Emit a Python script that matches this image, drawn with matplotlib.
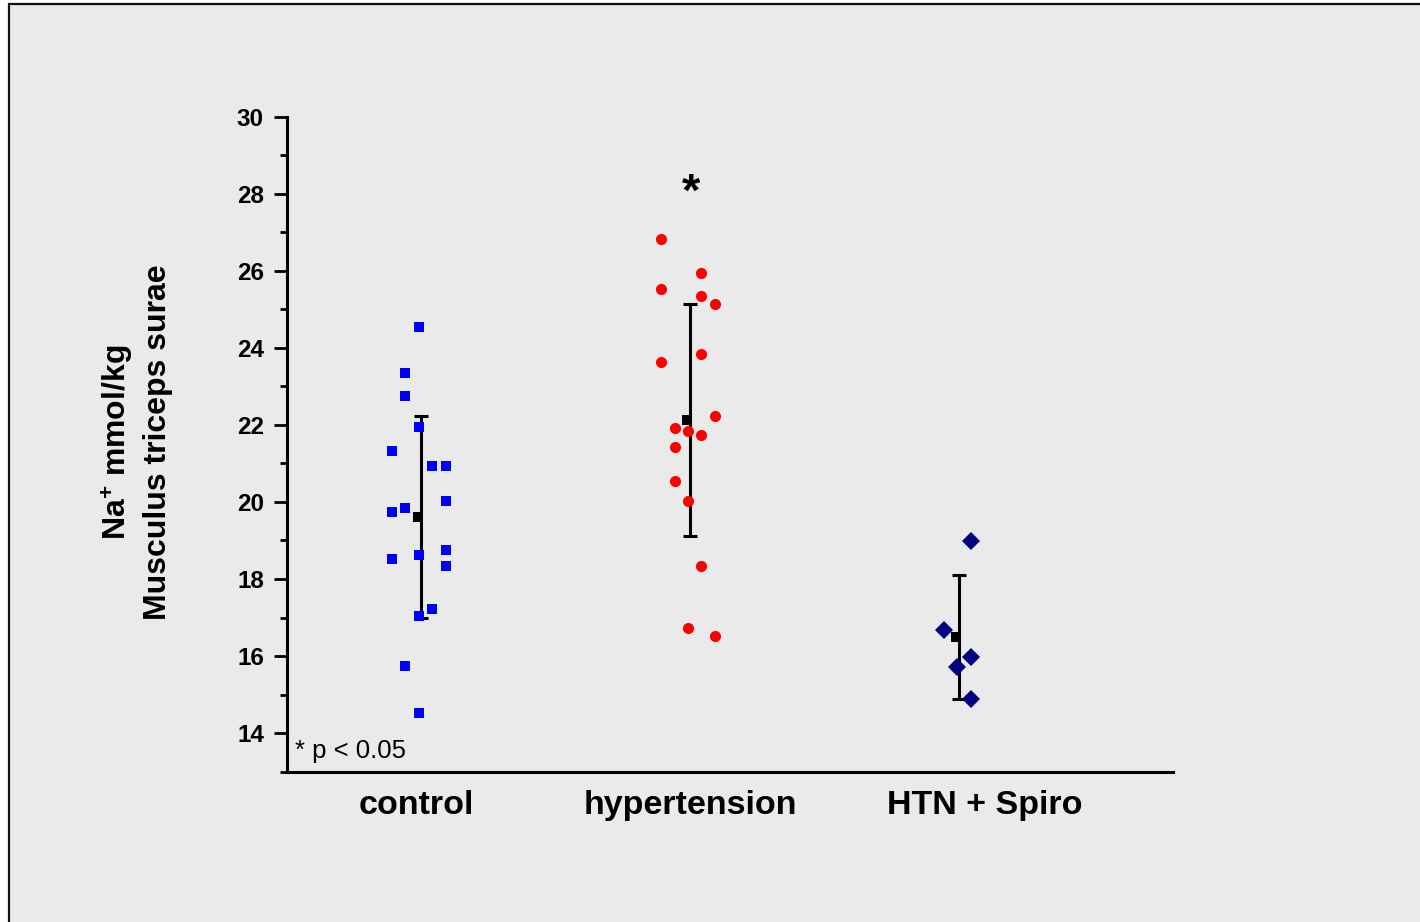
import matplotlib
matplotlib.use("Agg")
import matplotlib.pyplot as plt
import numpy as np
from matplotlib.patches import Rectangle
from matplotlib.ticker import FixedLocator, MultipleLocator

plt.rcParams["font.family"] = ["Liberation Sans", "DejaVu Sans"]
plt.rcParams["mathtext.fontset"] = "custom"
plt.rcParams["mathtext.rm"] = "Liberation Sans:bold"
plt.rcParams["mathtext.it"] = "Liberation Sans:bold"
plt.rcParams["mathtext.bf"] = "Liberation Sans:bold"

# ---- data (Na+ mmol/kg) --------------------------------------------------- #
groups = ["control", "hypertension", "HTN + Spiro"]

control_na = [24.54, 23.34, 22.74, 21.94, 21.33, 20.94, 20.94, 20.03, 19.73,
              19.84, 18.62, 18.53, 18.74, 18.33, 17.23, 17.04, 15.73, 14.53]
control_slot = [0, -1, -1, 0, -2, 1, 2, 2, -2, -1, 0, -2, 2, 2, 1, 0, -1, 0]

htn_na = [26.83, 25.93, 25.53, 25.33, 25.13, 23.84, 23.64, 22.23, 21.93,
          21.83, 21.73, 21.43, 20.53, 20.03, 18.33, 16.73, 16.53]
htn_slot = [-2, 1, -2, 1, 2, 1, -2, 2, -1, 0, 1, -1, -1, 0, 1, 0, 2]

spiro_na = [18.98, 16.68, 15.97, 15.72, 14.88]
spiro_slot = [1, -1, 1, 0, 1]

group_mean = [19.61, 22.13, 16.50]
group_sd = [2.61, 3.01, 1.61]

# ---- style ---------------------------------------------------------------- #
W, H = 1420, 922
BG = "#eaeaea"
JITTER = 0.05          # spacing between jitter columns, in x units
PX = 72 / 100          # points per pixel at dpi 100
LABEL_NUDGE_PX = [-2, 2, 27]

fig = plt.figure(figsize=(W / 100, H / 100), dpi=100)
fig.patch.set_facecolor("white")
fig.add_artist(Rectangle((8.5 / W, -0.1), 1.2, 1.1 - 4.5 / H,
                         transform=fig.transFigure, facecolor=BG,
                         edgecolor="#111111", lw=1.6, zorder=-10))

ax = fig.add_axes([286.7 / W, 1 - 771.7 / H, (1173 - 286.7) / W,
                   (771.7 - 116.5) / H])
ax.set_facecolor("none")
ax.set_xlim(0.5098, 3.801)
ax.set_ylim(13, 30)

pos = np.arange(1, len(groups) + 1)

ax.errorbar(pos + 0.007, group_mean, yerr=group_sd, fmt="none", ecolor="black",
            elinewidth=2.2, capsize=4.7, capthick=2.2, zorder=2)
ax.plot(pos[0] + np.array(control_slot) * JITTER, control_na, "s",
        color="#0000ff", ms=6.5, mew=0, zorder=3)
ax.plot(pos[1] + np.array(htn_slot) * JITTER, htn_na, "o",
        color="#ff0000", ms=8, mew=0, zorder=3)
ax.plot(pos[2] + np.array(spiro_slot) * JITTER, spiro_na, "D",
        color="#000080", ms=9.3, mew=0, zorder=3)
ax.plot(pos - 0.003, group_mean, "s", color="black", ms=6.8, mew=0, zorder=4)

# axes
for s in ("top", "right"):
    ax.spines[s].set_visible(False)
for s in ("left", "bottom"):
    ax.spines[s].set_linewidth(2.2)
ax.yaxis.set_major_locator(MultipleLocator(2))
ax.yaxis.set_minor_locator(MultipleLocator(1))
ax.set_yticks(np.arange(14, 31, 2))
ax.tick_params(axis="y", which="major", direction="out", length=9.4,
               width=2, pad=7, labelsize=17.5)
ax.tick_params(axis="y", which="minor", direction="out", length=5, width=2)
for lbl in ax.get_yticklabels():
    lbl.set_fontweight("bold")
ax.set_xticks([])
ax.xaxis.set_minor_locator(FixedLocator(np.arange(0.615, 3.8, 0.099)))
ax.tick_params(axis="x", which="minor", direction="out", length=1, width=0.8)

# category labels
for p, name, dx in zip(pos, groups, LABEL_NUDGE_PX):
    ax.annotate(name, xy=(p, 0), xycoords=("data", "axes fraction"),
                xytext=(dx * PX, -42 * PX), textcoords="offset points",
                ha="center", va="baseline", fontsize=24.5, fontweight="bold")

ax.text(2.01, 27.68, "*", ha="center", va="baseline", fontsize=34,
        fontweight="bold")
ax.text(0.541, 13.35, "* p < 0.05", ha="left", va="baseline", fontsize=18.5)

fig.text(136 / W, 1 - 442 / H, "Na$^{+}$ mmol/kg\nMusculus triceps surae",
         rotation=90, ha="center", va="center", multialignment="center",
         fontsize=23, fontweight="bold", linespacing=1.3)

fig.savefig("out.png", dpi=100)
